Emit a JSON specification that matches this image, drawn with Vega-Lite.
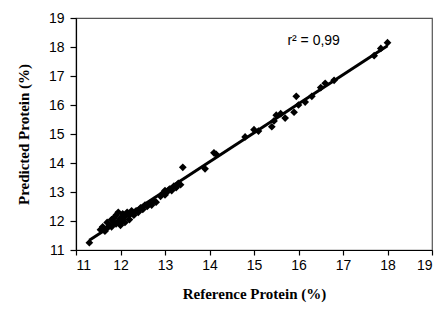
{
  "$schema": "https://vega.github.io/schema/vega-lite/v6.json",
  "width": 356,
  "height": 232,
  "autosize": {"type": "none"},
  "padding": {"left": 76, "top": 18, "right": 11, "bottom": 70},
  "background": "white",
  "config": {
    "view": {"stroke": "#555555", "strokeWidth": 1.2},
    "axis": {
      "grid": false,
      "labelOverlap": false,
      "domainColor": "black",
      "domainWidth": 1.2,
      "tickColor": "black",
      "tickWidth": 1.2,
      "labelFont": "Liberation Sans",
      "labelFontSize": 14,
      "labelColor": "black",
      "titleFont": "Liberation Serif",
      "titleFontSize": 15,
      "titleFontWeight": "bold",
      "titleColor": "black"
    }
  },
  "datasets": {
    "pts": [
      {"ref": 11.3, "pred": 11.25},
      {"ref": 11.55, "pred": 11.7},
      {"ref": 11.6, "pred": 11.8},
      {"ref": 11.65, "pred": 11.65},
      {"ref": 11.7, "pred": 11.75},
      {"ref": 11.7, "pred": 11.95},
      {"ref": 11.75, "pred": 11.85},
      {"ref": 11.8, "pred": 12.05},
      {"ref": 11.8, "pred": 11.8},
      {"ref": 11.85, "pred": 11.95},
      {"ref": 11.85, "pred": 12.1},
      {"ref": 11.9, "pred": 11.9},
      {"ref": 11.9, "pred": 12.2},
      {"ref": 11.95, "pred": 12.0},
      {"ref": 11.95, "pred": 12.3},
      {"ref": 12.0, "pred": 12.1},
      {"ref": 12.0, "pred": 11.85},
      {"ref": 12.05, "pred": 12.25},
      {"ref": 12.05, "pred": 12.0},
      {"ref": 12.1, "pred": 12.15},
      {"ref": 12.1, "pred": 11.95},
      {"ref": 12.15, "pred": 12.3},
      {"ref": 12.2, "pred": 12.2},
      {"ref": 12.2, "pred": 12.05},
      {"ref": 12.25, "pred": 12.35},
      {"ref": 12.3, "pred": 12.2},
      {"ref": 12.35, "pred": 12.35},
      {"ref": 12.4, "pred": 12.3},
      {"ref": 12.45, "pred": 12.45},
      {"ref": 12.5, "pred": 12.4},
      {"ref": 12.55, "pred": 12.55},
      {"ref": 12.6, "pred": 12.5},
      {"ref": 12.65, "pred": 12.6},
      {"ref": 12.7, "pred": 12.55},
      {"ref": 12.75, "pred": 12.7},
      {"ref": 12.8, "pred": 12.65},
      {"ref": 12.9, "pred": 12.85},
      {"ref": 12.95, "pred": 12.95},
      {"ref": 13.0, "pred": 12.9},
      {"ref": 13.0, "pred": 13.05},
      {"ref": 13.05, "pred": 13.0},
      {"ref": 13.1, "pred": 13.1},
      {"ref": 13.15, "pred": 13.05},
      {"ref": 13.2, "pred": 13.2},
      {"ref": 13.25, "pred": 13.15},
      {"ref": 13.3, "pred": 13.3},
      {"ref": 13.35, "pred": 13.25},
      {"ref": 13.4, "pred": 13.85},
      {"ref": 13.9, "pred": 13.8},
      {"ref": 14.1, "pred": 14.35},
      {"ref": 14.15, "pred": 14.3},
      {"ref": 14.8, "pred": 14.9},
      {"ref": 15.0, "pred": 15.15},
      {"ref": 15.1, "pred": 15.1},
      {"ref": 15.4, "pred": 15.25},
      {"ref": 15.45, "pred": 15.45},
      {"ref": 15.5, "pred": 15.65},
      {"ref": 15.6, "pred": 15.7},
      {"ref": 15.7, "pred": 15.55},
      {"ref": 15.9, "pred": 15.75},
      {"ref": 15.95, "pred": 16.3},
      {"ref": 16.0, "pred": 16.0},
      {"ref": 16.15, "pred": 16.1},
      {"ref": 16.3, "pred": 16.3},
      {"ref": 16.5, "pred": 16.6},
      {"ref": 16.6, "pred": 16.75},
      {"ref": 16.8, "pred": 16.85},
      {"ref": 17.7, "pred": 17.7},
      {"ref": 17.85, "pred": 17.95},
      {"ref": 18.0, "pred": 18.15}
    ],
    "note": [{"label": "r² = 0,99"}]
  },
  "layer": [
    {
      "data": {"name": "pts"},
      "mark": {"type": "point", "shape": "diamond", "filled": true, "color": "black", "size": 60, "opacity": 1},
      "encoding": {
        "x": {
          "field": "ref", "type": "quantitative",
          "scale": {"domain": [11, 19], "nice": false, "zero": false},
          "axis": {"values": [11,12,13,14,15,16,17,18,19], "tickSize": 5, "labelPadding": 3, "title": "Reference Protein (%)", "titlePadding": 14}
        },
        "y": {
          "field": "pred", "type": "quantitative",
          "scale": {"domain": [11, 19], "nice": false, "zero": false},
          "axis": {"values": [11,12,13,14,15,16,17,18,19], "tickSize": 6, "labelPadding": 6, "title": "Predicted Protein (%)", "titlePadding": 17}
        }
      }
    },
    {
      "data": {"name": "pts"},
      "transform": [{"regression": "pred", "on": "ref"}],
      "mark": {"type": "line", "color": "black", "strokeWidth": 3},
      "encoding": {
        "x": {
          "field": "ref", "type": "quantitative",
          "scale": {"domain": [11, 19], "nice": false, "zero": false},
          "axis": {"values": [11,12,13,14,15,16,17,18,19], "tickSize": 5, "labelPadding": 3, "title": "Reference Protein (%)", "titlePadding": 14}
        },
        "y": {
          "field": "pred", "type": "quantitative",
          "scale": {"domain": [11, 19], "nice": false, "zero": false},
          "axis": {"values": [11,12,13,14,15,16,17,18,19], "tickSize": 6, "labelPadding": 6, "title": "Predicted Protein (%)", "titlePadding": 17}
        }
      }
    },
    {
      "data": {"name": "note"},
      "mark": {"type": "text", "align": "left", "baseline": "middle", "font": "Liberation Sans", "fontSize": 14, "color": "black"},
      "encoding": {
        "text": {"field": "label", "type": "nominal"},
        "x": {
          "datum": 15.75, "type": "quantitative",
          "scale": {"domain": [11, 19], "nice": false, "zero": false},
          "axis": {"values": [11,12,13,14,15,16,17,18,19], "tickSize": 5, "labelPadding": 3, "title": "Reference Protein (%)", "titlePadding": 14}
        },
        "y": {
          "datum": 18.2, "type": "quantitative",
          "scale": {"domain": [11, 19], "nice": false, "zero": false},
          "axis": {"values": [11,12,13,14,15,16,17,18,19], "tickSize": 6, "labelPadding": 6, "title": "Predicted Protein (%)", "titlePadding": 17}
        }
      }
    }
  ]
}
